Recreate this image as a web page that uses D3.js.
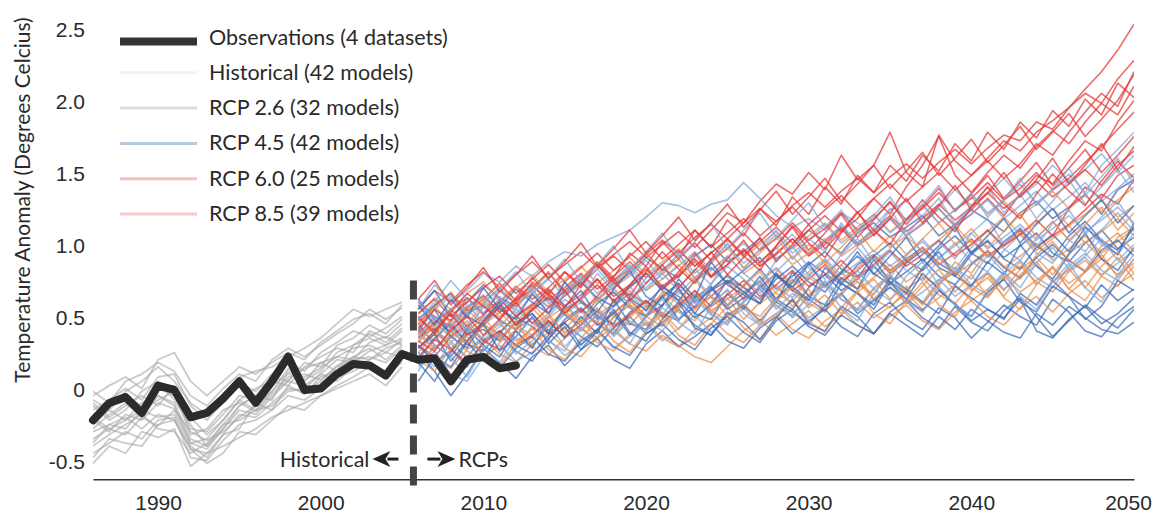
<!DOCTYPE html>
<html>
<head>
<meta charset="utf-8">
<script src="https://cdn.jsdelivr.net/npm/d3@7"></script>
<style>
  html, body { margin: 0; padding: 0; background: #fff; }
  svg { display: block; font-family: Lato, "Open Sans", sans-serif; }
  .axis text { fill: #2a2a2a; font-size: 21px; }
  .axis path { stroke: #333; stroke-width: 1.6; }
  .legend text, .note { fill: #2a2a2a; font-size: 21.5px; }
</style>
</head>
<body>
<div id="chart"></div>
<script>
// Years
const histStart = 1986;   // historical runs and observations start
const rcpStart = 2006;    // scenario runs start
const splitYear = 2005.7; // dashed divider

const xTicks = [1990, 2000, 2010, 2020, 2030, 2040, 2050];
const yTicks = [-0.5, 0, 0.5, 1.0, 1.5, 2.0, 2.5];

const legendLabels = [
  'Observations (4 datasets)',
  'Historical (42 models)',
  'RCP 2.6 (32 models)',
  'RCP 4.5 (42 models)',
  'RCP 6.0 (25 models)',
  'RCP 8.5 (39 models)'
];

// Observations, 1986-2012
const observations = [
  -0.22, -0.10, -0.06, -0.17, 0.02, -0.01, -0.20, -0.17, -0.07, 0.05,
  -0.10, 0.05, 0.22, -0.01, 0.00, 0.10, 0.17, 0.16, 0.09, 0.24,
  0.20, 0.21, 0.05, 0.20, 0.22, 0.14, 0.16
];

// Historical model runs, 1986-2005
const historical = [
  [-0.18, -0.12, -0.05, -0.12, 0.00, -0.05, -0.28, -0.30, -0.18, -0.05, -0.08, 0.02, 0.10, 0.08, 0.14, 0.22, 0.28, 0.30, 0.25, 0.34],
  [-0.45, -0.38, -0.30, -0.35, -0.22, -0.20, -0.48, -0.50, -0.36, -0.25, -0.22, -0.15, -0.05, -0.08, 0.00, 0.08, 0.12, 0.18, 0.10, 0.20],
  [-0.05, 0.02, 0.08, 0.00, 0.20, 0.25, 0.05, -0.05, 0.05, 0.15, 0.10, 0.18, 0.25, 0.20, 0.32, 0.40, 0.48, 0.52, 0.45, 0.58],
  [-0.30, -0.25, -0.20, -0.28, -0.18, -0.22, -0.42, -0.45, -0.32, -0.18, -0.20, -0.10, 0.00, -0.02, 0.05, 0.15, 0.20, 0.22, 0.18, 0.28],
  [-0.25, -0.15, -0.22, -0.10, -0.05, -0.10, -0.35, -0.40, -0.25, -0.12, -0.05, -0.08, 0.12, 0.05, 0.18, 0.12, 0.30, 0.38, 0.32, 0.42],
  [-0.10, -0.20, -0.12, -0.05, -0.12, 0.02, -0.20, -0.32, -0.22, -0.08, 0.00, 0.05, 0.02, 0.15, 0.22, 0.28, 0.25, 0.40, 0.35, 0.45],
  [-0.52, -0.40, -0.45, -0.30, -0.34, -0.28, -0.54, -0.45, -0.40, -0.34, -0.28, -0.20, -0.15, -0.10, -0.05, 0.00, 0.05, 0.10, 0.02, 0.15],
  [-0.15, -0.08, 0.00, -0.08, 0.08, 0.10, -0.12, -0.22, -0.10, 0.04, -0.02, 0.10, 0.18, 0.12, 0.25, 0.32, 0.40, 0.36, 0.42, 0.50],
  [-0.35, -0.28, -0.32, -0.20, -0.26, -0.15, -0.38, -0.42, -0.28, -0.15, -0.18, -0.06, 0.05, 0.02, 0.10, 0.20, 0.18, 0.26, 0.30, 0.35],
  [-0.22, -0.30, -0.18, -0.22, -0.10, -0.14, -0.30, -0.36, -0.30, -0.20, -0.12, -0.02, 0.08, 0.10, 0.06, 0.16, 0.22, 0.28, 0.20, 0.30],
  [-0.40, -0.32, -0.25, -0.18, -0.28, -0.30, -0.45, -0.38, -0.25, -0.22, -0.15, -0.12, -0.02, 0.00, 0.10, 0.05, 0.15, 0.20, 0.25, 0.22],
  [-0.08, -0.15, -0.02, 0.05, 0.15, 0.05, -0.10, -0.18, -0.05, 0.08, 0.12, 0.15, 0.22, 0.28, 0.35, 0.45, 0.55, 0.50, 0.55, 0.60],
  [-0.28, -0.18, -0.10, -0.20, -0.05, -0.12, -0.38, -0.35, -0.22, -0.08, -0.15, -0.02, 0.14, 0.06, 0.12, 0.25, 0.30, 0.35, 0.30, 0.40],
  [-0.12, -0.22, -0.15, -0.02, 0.05, -0.08, -0.25, -0.40, -0.28, -0.12, -0.05, 0.08, 0.05, 0.18, 0.15, 0.30, 0.35, 0.44, 0.38, 0.48],
  [-0.38, -0.25, -0.28, -0.15, -0.20, -0.18, -0.40, -0.48, -0.32, -0.28, -0.10, -0.15, 0.02, -0.04, 0.08, 0.12, 0.22, 0.20, 0.28, 0.32],
  [-0.02, -0.10, 0.05, 0.10, 0.18, 0.12, -0.05, -0.12, 0.00, 0.10, 0.05, 0.20, 0.28, 0.22, 0.30, 0.38, 0.45, 0.55, 0.48, 0.56],
  [-0.20, -0.28, -0.22, -0.15, -0.08, -0.02, -0.32, -0.28, -0.15, -0.10, -0.16, -0.04, 0.06, 0.14, 0.18, 0.22, 0.20, 0.32, 0.36, 0.30],
  [-0.48, -0.35, -0.38, -0.40, -0.25, -0.22, -0.42, -0.52, -0.45, -0.30, -0.32, -0.22, -0.12, -0.15, -0.05, 0.02, 0.08, 0.15, 0.10, 0.18]
];

// Scenario runs, 2006-2050
const rcp26 = [
  [0.45, 0.30, 0.22, 0.38, 0.41, 0.33, 0.46, 0.52, 0.40, 0.55, 0.62, 0.48, 0.57, 0.66, 0.59, 0.70, 0.64, 0.52, 0.68, 0.75, 0.71, 0.83, 0.69, 0.78, 0.88, 0.80, 0.72, 0.86, 0.93, 0.82, 0.90, 0.98, 0.87, 0.80, 0.95, 1.02, 0.91, 0.99, 1.08, 0.94, 0.88, 1.01, 1.10, 0.97, 1.05],
  [0.25, 0.12, -0.05, 0.10, 0.28, 0.18, 0.07, 0.22, 0.30, 0.16, 0.27, 0.35, 0.20, 0.14, 0.31, 0.40, 0.29, 0.36, 0.45, 0.33, 0.28, 0.42, 0.50, 0.38, 0.47, 0.55, 0.43, 0.36, 0.52, 0.60, 0.48, 0.41, 0.56, 0.49, 0.35, 0.46, 0.58, 0.50, 0.44, 0.62, 0.53, 0.40, 0.36, 0.49, 0.57],
  [0.55, 0.68, 0.50, 0.60, 0.72, 0.63, 0.57, 0.70, 0.81, 0.66, 0.75, 0.86, 0.72, 0.80, 0.91, 0.83, 0.77, 0.92, 1.00, 0.88, 0.95, 1.04, 0.90, 0.98, 1.10, 1.02, 0.94, 1.08, 1.15, 1.05, 1.12, 1.20, 1.06, 1.14, 1.24, 1.17, 1.09, 1.22, 1.30, 1.18, 1.26, 1.35, 1.21, 1.38, 1.45],
  [0.35, 0.42, 0.28, 0.15, 0.33, 0.40, 0.30, 0.24, 0.37, 0.45, 0.36, 0.29, 0.42, 0.50, 0.38, 0.46, 0.55, 0.44, 0.37, 0.51, 0.58, 0.47, 0.60, 0.53, 0.45, 0.57, 0.66, 0.52, 0.61, 0.70, 0.62, 0.54, 0.68, 0.59, 0.47, 0.55, 0.49, 0.62, 0.40, 0.35, 0.48, 0.57, 0.45, 0.52, 0.63],
  [0.20, 0.35, 0.45, 0.31, 0.26, 0.39, 0.50, 0.43, 0.34, 0.48, 0.56, 0.45, 0.38, 0.53, 0.61, 0.52, 0.47, 0.63, 0.71, 0.58, 0.66, 0.74, 0.62, 0.55, 0.70, 0.79, 0.68, 0.76, 0.85, 0.73, 0.81, 0.90, 0.78, 0.72, 0.86, 0.95, 0.84, 0.77, 0.91, 1.00, 0.89, 0.81, 0.96, 1.03, 0.92],
  [0.62, 0.48, 0.39, 0.52, 0.58, 0.47, 0.41, 0.55, 0.63, 0.51, 0.44, 0.59, 0.67, 0.56, 0.50, 0.64, 0.73, 0.60, 0.68, 0.79, 0.70, 0.62, 0.76, 0.85, 0.74, 0.67, 0.81, 0.92, 0.80, 0.72, 0.87, 0.96, 0.84, 0.78, 0.93, 1.03, 0.90, 0.83, 0.98, 1.07, 0.95, 1.12, 1.02, 0.93, 1.15],
  [0.30, 0.18, 0.26, 0.40, 0.22, 0.14, 0.28, 0.36, 0.24, 0.19, 0.33, 0.41, 0.29, 0.23, 0.38, 0.45, 0.34, 0.27, 0.42, 0.50, 0.39, 0.32, 0.47, 0.55, 0.43, 0.37, 0.51, 0.44, 0.38, 0.53, 0.61, 0.49, 0.42, 0.57, 0.46, 0.40, 0.54, 0.63, 0.50, 0.36, 0.47, 0.58, 0.49, 0.42, 0.55],
  [0.48, 0.58, 0.66, 0.50, 0.44, 0.57, 0.69, 0.60, 0.52, 0.65, 0.74, 0.63, 0.57, 0.71, 0.80, 0.68, 0.61, 0.75, 0.84, 0.73, 0.82, 0.91, 0.78, 0.70, 0.86, 0.95, 0.83, 0.77, 0.92, 1.01, 0.89, 0.82, 0.97, 1.06, 0.94, 0.87, 1.02, 1.11, 0.99, 0.91, 1.06, 1.16, 1.03, 0.96, 1.12],
  [0.18, 0.05, 0.25, 0.42, 0.30, 0.22, 0.40, 0.28, 0.47, 0.35, 0.50, 0.38, 0.62, 0.45, 0.41, 0.58, 0.70, 0.52, 0.48, 0.66, 0.55, 0.72, 0.60, 0.81, 0.64, 0.58, 0.77, 0.69, 0.90, 0.74, 0.66, 0.84, 0.95, 0.78, 0.71, 0.88, 0.79, 1.00, 0.85, 0.76, 0.93, 1.08, 0.90, 0.82, 0.98],
  [0.40, 0.55, 0.36, 0.28, 0.47, 0.60, 0.44, 0.52, 0.38, 0.57, 0.68, 0.50, 0.45, 0.63, 0.54, 0.72, 0.61, 0.49, 0.58, 0.75, 0.67, 0.59, 0.80, 0.70, 0.62, 0.54, 0.73, 0.66, 0.58, 0.77, 0.69, 0.60, 0.52, 0.71, 0.63, 0.55, 0.48, 0.66, 0.58, 0.75, 0.64, 0.56, 0.72, 0.61, 0.69],
  [0.05, 0.22, 0.15, 0.32, 0.20, 0.38, 0.26, 0.19, 0.35, 0.46, 0.30, 0.41, 0.53, 0.37, 0.50, 0.64, 0.48, 0.57, 0.70, 0.55, 0.63, 0.78, 0.62, 0.74, 0.87, 0.71, 0.80, 0.95, 0.79, 0.92, 1.05, 0.88, 0.99, 1.12, 0.94, 1.06, 1.18, 1.01, 1.14, 1.25, 1.08, 1.20, 1.31, 1.15, 1.27],
  [0.58, 0.44, 0.62, 0.49, 0.70, 0.55, 0.48, 0.66, 0.52, 0.74, 0.60, 0.53, 0.69, 0.82, 0.64, 0.57, 0.76, 0.63, 0.88, 0.72, 0.65, 0.59, 0.79, 0.68, 0.61, 0.84, 0.73, 0.66, 0.55, 0.74, 0.62, 0.80, 0.69, 0.58, 0.50, 0.67, 0.76, 0.60, 0.53, 0.71, 0.64, 0.48, 0.57, 0.75, 0.68],
  [0.28, 0.38, 0.19, 0.33, 0.45, 0.26, 0.36, 0.50, 0.31, 0.43, 0.27, 0.40, 0.55, 0.39, 0.33, 0.48, 0.60, 0.42, 0.37, 0.53, 0.46, 0.34, 0.49, 0.62, 0.45, 0.40, 0.57, 0.50, 0.38, 0.52, 0.44, 0.36, 0.50, 0.41, 0.55, 0.47, 0.39, 0.35, 0.52, 0.44, 0.57, 0.49, 0.41, 0.38, 0.46]
];

const rcp45 = [
  [0.55, 0.72, 0.60, 0.68, 0.80, 0.74, 0.85, 0.78, 0.88, 0.95, 0.92, 1.00, 1.05, 1.10, 1.19, 1.29, 1.27, 1.22, 1.28, 1.31, 1.43, 1.32, 1.20, 1.12, 1.18, 1.10, 1.22, 1.15, 1.08, 1.24, 1.30, 1.19, 1.26, 1.38, 1.27, 1.35, 1.46, 1.33, 1.42, 1.55, 1.44, 1.52, 1.63, 1.50, 1.62],
  [0.40, 0.28, 0.36, 0.47, 0.34, 0.43, 0.55, 0.46, 0.39, 0.52, 0.60, 0.49, 0.57, 0.66, 0.54, 0.63, 0.72, 0.61, 0.69, 0.78, 0.67, 0.75, 0.84, 0.73, 0.81, 0.90, 0.79, 0.87, 0.96, 0.85, 0.93, 1.02, 0.91, 0.99, 1.08, 0.97, 1.05, 1.14, 1.03, 1.11, 1.20, 1.09, 1.17, 1.26, 1.15],
  [0.15, 0.26, 0.10, 0.05, 0.22, 0.30, 0.19, 0.25, 0.34, 0.23, 0.31, 0.40, 0.28, 0.36, 0.45, 0.33, 0.42, 0.51, 0.39, 0.47, 0.56, 0.44, 0.52, 0.61, 0.49, 0.57, 0.66, 0.54, 0.62, 0.71, 0.59, 0.67, 0.76, 0.64, 0.72, 0.81, 0.69, 0.77, 0.86, 0.74, 0.82, 0.91, 0.79, 0.87, 0.96],
  [0.50, 0.38, 0.46, 0.57, 0.65, 0.53, 0.61, 0.72, 0.59, 0.68, 0.79, 0.66, 0.75, 0.86, 0.73, 0.82, 0.93, 0.80, 0.89, 1.00, 0.87, 0.96, 1.07, 0.94, 1.03, 1.14, 1.01, 1.10, 1.21, 1.08, 1.17, 1.28, 1.15, 1.24, 1.35, 1.22, 1.31, 1.42, 1.29, 1.38, 1.49, 1.36, 1.55, 1.66, 1.78],
  [0.33, 0.45, 0.52, 0.40, 0.49, 0.58, 0.44, 0.37, 0.50, 0.62, 0.53, 0.46, 0.60, 0.71, 0.58, 0.51, 0.66, 0.77, 0.64, 0.57, 0.72, 0.83, 0.70, 0.63, 0.78, 0.89, 0.76, 0.69, 0.84, 0.95, 0.82, 0.75, 0.90, 1.01, 0.88, 0.81, 0.96, 1.07, 0.94, 0.87, 1.02, 1.13, 1.00, 0.93, 1.08],
  [0.60, 0.47, 0.35, 0.42, 0.56, 0.64, 0.50, 0.57, 0.69, 0.58, 0.48, 0.62, 0.74, 0.63, 0.70, 0.80, 0.68, 0.59, 0.73, 0.85, 0.76, 0.66, 0.81, 0.92, 0.79, 0.71, 0.86, 0.98, 0.85, 0.77, 0.92, 1.04, 0.91, 0.83, 0.98, 1.10, 0.97, 0.89, 1.04, 1.16, 1.03, 0.95, 1.10, 1.22, 1.09],
  [0.28, 0.40, 0.33, 0.21, 0.37, 0.46, 0.35, 0.29, 0.44, 0.52, 0.41, 0.35, 0.50, 0.58, 0.47, 0.40, 0.55, 0.64, 0.52, 0.45, 0.60, 0.69, 0.57, 0.50, 0.65, 0.74, 0.62, 0.55, 0.70, 0.79, 0.67, 0.60, 0.75, 0.84, 0.72, 0.65, 0.80, 0.89, 0.77, 0.70, 0.85, 0.94, 0.82, 0.75, 0.90],
  [0.45, 0.55, 0.64, 0.52, 0.60, 0.70, 0.58, 0.66, 0.76, 0.64, 0.72, 0.83, 0.70, 0.78, 0.89, 0.76, 0.85, 0.95, 0.82, 0.91, 1.01, 0.88, 0.97, 1.07, 0.94, 1.03, 1.13, 1.00, 1.09, 1.19, 1.06, 1.15, 1.25, 1.12, 1.21, 1.31, 1.18, 1.27, 1.37, 1.24, 1.33, 1.43, 1.30, 1.39, 1.49],
  [0.35, 0.50, 0.42, 0.58, 0.46, 0.62, 0.55, 0.70, 0.52, 0.66, 0.78, 0.60, 0.73, 0.85, 0.68, 0.80, 0.94, 0.76, 0.88, 1.01, 0.83, 0.97, 1.10, 0.90, 1.04, 0.95, 1.15, 1.00, 1.12, 1.25, 1.06, 1.20, 1.32, 1.14, 1.27, 1.40, 1.22, 1.35, 1.18, 1.30, 1.45, 1.28, 1.40, 1.52, 1.36],
  [0.62, 0.48, 0.55, 0.40, 0.58, 0.70, 0.52, 0.65, 0.57, 0.74, 0.61, 0.80, 0.68, 0.59, 0.77, 0.86, 0.70, 0.83, 0.72, 0.92, 0.80, 0.71, 0.89, 0.99, 0.84, 0.76, 0.93, 1.04, 0.88, 0.97, 1.10, 0.94, 1.02, 0.90, 1.08, 1.18, 1.00, 1.12, 0.98, 1.15, 1.24, 1.07, 1.19, 1.30, 1.13],
  [0.12, 0.30, 0.22, 0.08, 0.27, 0.38, 0.24, 0.33, 0.45, 0.29, 0.41, 0.52, 0.36, 0.47, 0.39, 0.56, 0.48, 0.62, 0.51, 0.44, 0.60, 0.71, 0.55, 0.66, 0.58, 0.75, 0.64, 0.82, 0.69, 0.61, 0.78, 0.88, 0.72, 0.84, 0.76, 0.93, 0.81, 0.70, 0.87, 0.98, 0.83, 0.92, 1.04, 0.89, 1.00],
  [0.48, 0.60, 0.75, 0.62, 0.52, 0.69, 0.81, 0.66, 0.77, 0.90, 0.74, 0.86, 0.99, 0.82, 0.95, 1.08, 0.91, 1.02, 1.15, 0.97, 1.10, 1.22, 1.05, 1.17, 1.29, 1.12, 1.24, 1.08, 1.20, 1.33, 1.16, 1.28, 1.41, 1.23, 1.36, 1.19, 1.31, 1.46, 1.27, 1.39, 1.53, 1.34, 1.47, 1.60, 1.42],
  [0.25, 0.15, 0.32, 0.43, 0.28, 0.18, 0.36, 0.49, 0.33, 0.26, 0.44, 0.55, 0.40, 0.31, 0.50, 0.62, 0.46, 0.38, 0.57, 0.69, 0.52, 0.44, 0.63, 0.49, 0.58, 0.72, 0.56, 0.47, 0.66, 0.79, 0.61, 0.53, 0.71, 0.58, 0.50, 0.68, 0.81, 0.64, 0.55, 0.74, 0.87, 0.70, 0.60, 0.79, 0.93]
];

const rcp60 = [
  [0.30, 0.20, 0.14, 0.27, 0.35, 0.24, 0.18, 0.31, 0.39, 0.28, 0.22, 0.35, 0.42, 0.31, 0.26, 0.37, 0.30, 0.22, 0.18, 0.29, 0.40, 0.48, 0.37, 0.45, 0.54, 0.43, 0.51, 0.60, 0.49, 0.57, 0.66, 0.55, 0.63, 0.72, 0.61, 0.69, 0.78, 0.67, 0.75, 0.84, 0.73, 0.81, 0.90, 0.79, 0.87],
  [0.42, 0.33, 0.48, 0.55, 0.44, 0.38, 0.51, 0.59, 0.47, 0.41, 0.54, 0.62, 0.50, 0.44, 0.57, 0.65, 0.53, 0.47, 0.60, 0.68, 0.56, 0.50, 0.63, 0.71, 0.59, 0.53, 0.66, 0.74, 0.62, 0.56, 0.69, 0.77, 0.65, 0.59, 0.72, 0.80, 0.68, 0.83, 0.91, 0.79, 0.94, 1.02, 0.90, 1.05, 1.12],
  [0.25, 0.38, 0.31, 0.22, 0.36, 0.45, 0.33, 0.41, 0.50, 0.39, 0.47, 0.56, 0.44, 0.52, 0.61, 0.49, 0.57, 0.66, 0.54, 0.62, 0.71, 0.59, 0.67, 0.76, 0.64, 0.72, 0.81, 0.69, 0.77, 0.86, 0.74, 0.82, 0.91, 0.79, 0.87, 0.96, 0.84, 0.92, 1.01, 0.89, 0.97, 1.06, 0.94, 1.02, 1.11],
  [0.52, 0.63, 0.55, 0.66, 0.74, 0.61, 0.70, 0.79, 0.67, 0.76, 0.85, 0.73, 0.82, 0.91, 0.79, 0.88, 0.97, 0.85, 0.94, 1.03, 0.91, 1.00, 1.09, 0.97, 1.06, 1.15, 1.03, 1.12, 1.21, 1.09, 1.18, 1.27, 1.15, 1.24, 1.33, 1.21, 1.30, 1.20, 1.28, 1.37, 1.25, 1.34, 1.23, 1.31, 1.40],
  [0.36, 0.48, 0.40, 0.30, 0.44, 0.53, 0.42, 0.35, 0.49, 0.57, 0.46, 0.39, 0.53, 0.61, 0.50, 0.43, 0.57, 0.65, 0.54, 0.47, 0.61, 0.69, 0.58, 0.51, 0.65, 0.73, 0.62, 0.55, 0.69, 0.77, 0.66, 0.59, 0.73, 0.81, 0.70, 0.63, 0.77, 0.85, 0.74, 0.67, 0.81, 0.89, 0.78, 0.71, 0.85],
  [0.58, 0.45, 0.37, 0.50, 0.43, 0.34, 0.47, 0.56, 0.44, 0.53, 0.62, 0.51, 0.59, 0.68, 0.56, 0.64, 0.73, 0.61, 0.69, 0.78, 0.66, 0.74, 0.83, 0.71, 0.79, 0.88, 0.76, 0.84, 0.93, 0.81, 0.89, 0.98, 0.86, 0.94, 1.03, 0.91, 0.99, 1.08, 0.96, 1.04, 1.13, 1.01, 1.09, 1.18, 1.06],
  [0.18, 0.29, 0.37, 0.26, 0.20, 0.32, 0.40, 0.29, 0.23, 0.35, 0.43, 0.32, 0.26, 0.38, 0.46, 0.35, 0.29, 0.41, 0.49, 0.38, 0.32, 0.44, 0.52, 0.41, 0.35, 0.47, 0.55, 0.44, 0.38, 0.50, 0.58, 0.47, 0.41, 0.53, 0.61, 0.50, 0.44, 0.56, 0.64, 0.53, 0.66, 0.75, 0.63, 0.72, 0.80],
  [0.47, 0.57, 0.45, 0.52, 0.62, 0.50, 0.58, 0.68, 0.56, 0.64, 0.74, 0.62, 0.70, 0.80, 0.68, 0.76, 0.86, 0.74, 0.82, 0.92, 0.80, 0.88, 0.98, 0.86, 0.94, 1.04, 0.92, 1.00, 1.10, 0.98, 1.06, 0.95, 1.03, 1.13, 1.01, 1.09, 1.19, 1.07, 1.15, 1.25, 1.13, 1.21, 1.31, 1.19, 1.27],
  [0.32, 0.44, 0.26, 0.39, 0.50, 0.35, 0.46, 0.30, 0.43, 0.55, 0.40, 0.51, 0.37, 0.49, 0.61, 0.45, 0.56, 0.68, 0.52, 0.63, 0.48, 0.60, 0.72, 0.57, 0.69, 0.54, 0.66, 0.78, 0.62, 0.74, 0.59, 0.71, 0.83, 0.67, 0.79, 0.64, 0.76, 0.88, 0.72, 0.84, 0.69, 0.81, 0.93, 0.77, 0.90],
  [0.50, 0.38, 0.54, 0.44, 0.60, 0.48, 0.41, 0.57, 0.65, 0.52, 0.46, 0.62, 0.70, 0.58, 0.51, 0.67, 0.59, 0.75, 0.63, 0.56, 0.72, 0.81, 0.66, 0.60, 0.77, 0.70, 0.86, 0.74, 0.65, 0.82, 0.91, 0.78, 0.71, 0.88, 0.80, 0.96, 0.85, 0.76, 0.93, 1.02, 0.89, 0.82, 0.99, 1.08, 0.95],
  [0.20, 0.12, 0.28, 0.36, 0.24, 0.16, 0.31, 0.42, 0.27, 0.20, 0.35, 0.47, 0.33, 0.25, 0.40, 0.52, 0.37, 0.30, 0.45, 0.57, 0.42, 0.34, 0.50, 0.62, 0.47, 0.39, 0.56, 0.68, 0.52, 0.45, 0.61, 0.74, 0.58, 0.50, 0.67, 0.80, 0.63, 0.55, 0.72, 0.85, 0.69, 0.61, 0.78, 0.91, 0.75],
  [0.44, 0.56, 0.67, 0.53, 0.62, 0.73, 0.58, 0.69, 0.81, 0.65, 0.76, 0.88, 0.72, 0.83, 0.95, 0.79, 0.90, 0.77, 0.87, 0.98, 0.84, 0.94, 1.05, 0.90, 1.00, 0.87, 0.98, 1.10, 0.95, 1.06, 0.93, 1.04, 1.15, 1.00, 1.11, 0.98, 1.09, 1.21, 1.05, 1.16, 1.03, 1.14, 1.26, 1.10, 1.22],
  [0.38, 0.27, 0.40, 0.31, 0.45, 0.36, 0.29, 0.43, 0.52, 0.38, 0.47, 0.35, 0.49, 0.58, 0.44, 0.53, 0.41, 0.55, 0.64, 0.50, 0.59, 0.46, 0.61, 0.70, 0.56, 0.65, 0.52, 0.67, 0.76, 0.62, 0.71, 0.58, 0.73, 0.82, 0.68, 0.77, 0.64, 0.79, 0.88, 0.74, 0.83, 0.70, 0.85, 0.95, 0.80]
];

const rcp85 = [
  [0.55, 0.68, 0.60, 0.72, 0.81, 0.70, 0.79, 0.88, 0.77, 0.86, 0.95, 0.84, 0.93, 1.02, 0.91, 1.00, 1.09, 0.98, 1.10, 1.22, 1.15, 1.30, 1.42, 1.35, 1.50, 1.38, 1.62, 1.45, 1.55, 1.78, 1.50, 1.40, 1.76, 1.58, 1.48, 1.60, 1.72, 1.65, 1.78, 1.86, 1.95, 2.05, 1.98, 2.15, 2.28],
  [0.48, 0.40, 0.55, 0.63, 0.52, 0.60, 0.71, 0.62, 0.70, 0.81, 0.72, 0.83, 0.92, 0.82, 0.93, 1.03, 0.94, 1.05, 1.14, 1.04, 1.15, 1.25, 1.16, 1.27, 1.36, 1.26, 1.37, 1.46, 1.36, 1.47, 1.56, 1.46, 1.57, 1.66, 1.56, 1.67, 1.76, 1.72, 1.85, 1.80, 1.95, 2.08, 2.20, 2.35, 2.53],
  [0.38, 0.50, 0.43, 0.33, 0.47, 0.56, 0.45, 0.54, 0.64, 0.53, 0.62, 0.72, 0.61, 0.70, 0.80, 0.69, 0.78, 0.88, 0.77, 0.86, 0.96, 0.85, 0.94, 1.04, 0.93, 1.02, 1.12, 1.01, 1.10, 1.20, 1.09, 1.18, 1.28, 1.17, 1.26, 1.36, 1.25, 1.34, 1.44, 1.33, 1.42, 1.52, 1.41, 1.55, 1.65],
  [0.30, 0.22, 0.36, 0.44, 0.33, 0.27, 0.41, 0.49, 0.38, 0.46, 0.55, 0.44, 0.52, 0.62, 0.50, 0.58, 0.68, 0.56, 0.64, 0.74, 0.62, 0.70, 0.80, 0.68, 0.76, 0.86, 0.74, 0.82, 0.92, 0.80, 0.88, 0.98, 0.86, 0.94, 1.04, 0.92, 1.00, 1.10, 0.98, 1.06, 1.25, 1.40, 1.32, 1.48, 1.55],
  [0.45, 0.57, 0.66, 0.54, 0.62, 0.73, 0.61, 0.69, 0.80, 0.68, 0.76, 0.87, 0.75, 0.83, 0.94, 0.82, 0.90, 1.01, 0.89, 0.97, 1.08, 0.96, 1.04, 1.15, 1.03, 1.11, 1.22, 1.10, 1.18, 1.29, 1.17, 1.25, 1.36, 1.24, 1.32, 1.43, 1.31, 1.39, 1.50, 1.38, 1.46, 1.57, 1.68, 1.80, 1.92],
  [0.60, 0.50, 0.42, 0.56, 0.64, 0.53, 0.62, 0.72, 0.61, 0.70, 0.80, 0.69, 0.78, 0.88, 0.77, 0.86, 0.96, 0.85, 0.94, 1.04, 0.93, 1.02, 1.12, 1.01, 1.10, 1.20, 1.09, 1.18, 1.32, 1.21, 1.40, 1.55, 1.75, 1.48, 1.36, 1.50, 1.62, 1.53, 1.68, 1.79, 1.70, 1.85, 1.98, 1.90, 2.10],
  [0.35, 0.46, 0.55, 0.43, 0.51, 0.62, 0.50, 0.58, 0.69, 0.57, 0.65, 0.76, 0.64, 0.72, 0.83, 0.71, 0.79, 0.90, 0.78, 0.86, 0.97, 0.85, 0.93, 1.04, 0.92, 1.00, 1.11, 0.99, 1.07, 1.18, 1.06, 1.14, 1.25, 1.13, 1.21, 1.32, 1.20, 1.35, 1.48, 1.42, 1.58, 1.72, 1.65, 1.85, 2.00],
  [0.52, 0.62, 0.50, 0.60, 0.70, 0.78, 0.66, 0.76, 0.86, 0.74, 0.84, 0.94, 0.82, 0.92, 1.02, 0.90, 1.00, 1.10, 0.98, 1.08, 1.18, 1.06, 1.16, 1.26, 1.14, 1.24, 1.34, 1.22, 1.32, 1.42, 1.30, 1.40, 1.50, 1.38, 1.48, 1.58, 1.46, 1.56, 1.70, 1.62, 1.78, 1.92, 2.05, 1.96, 2.20],
  [0.22, 0.34, 0.27, 0.18, 0.31, 0.40, 0.30, 0.37, 0.47, 0.36, 0.44, 0.54, 0.43, 0.51, 0.61, 0.50, 0.58, 0.68, 0.57, 0.65, 0.75, 0.64, 0.72, 0.82, 0.71, 0.79, 0.89, 0.78, 0.86, 0.96, 0.85, 0.93, 1.03, 0.92, 1.00, 1.10, 0.99, 1.07, 1.17, 1.06, 1.14, 1.24, 1.35, 1.28, 1.45],
  [0.42, 0.55, 0.47, 0.63, 0.51, 0.68, 0.59, 0.74, 0.65, 0.81, 0.70, 0.88, 0.77, 0.94, 0.85, 1.02, 0.90, 1.10, 0.98, 1.17, 1.06, 1.25, 1.13, 1.33, 1.21, 1.40, 1.28, 1.48, 1.36, 1.55, 1.44, 1.62, 1.51, 1.70, 1.58, 1.78, 1.66, 1.85, 1.74, 1.93, 1.82, 2.01, 1.90, 2.12, 2.02],
  [0.28, 0.40, 0.52, 0.37, 0.46, 0.58, 0.44, 0.55, 0.67, 0.52, 0.63, 0.76, 0.60, 0.72, 0.85, 0.69, 0.81, 0.94, 0.78, 0.90, 1.03, 0.87, 0.99, 1.12, 0.96, 1.08, 1.21, 1.05, 1.17, 1.30, 1.14, 1.26, 1.39, 1.23, 1.35, 1.48, 1.32, 1.44, 1.57, 1.41, 1.53, 1.66, 1.50, 1.62, 1.75],
  [0.50, 0.38, 0.53, 0.66, 0.57, 0.48, 0.63, 0.77, 0.65, 0.56, 0.72, 0.86, 0.74, 0.64, 0.81, 0.95, 0.83, 0.73, 0.90, 1.04, 0.92, 0.82, 0.99, 1.13, 1.01, 0.91, 1.08, 1.22, 1.10, 1.00, 1.17, 1.31, 1.19, 1.09, 1.26, 1.40, 1.28, 1.18, 1.35, 1.49, 1.37, 1.27, 1.44, 1.58, 1.46],
  [0.62, 0.75, 0.58, 0.70, 0.84, 0.67, 0.79, 0.92, 0.76, 0.88, 1.01, 0.85, 0.97, 1.10, 0.94, 1.06, 1.19, 1.03, 1.15, 1.28, 1.12, 1.24, 1.37, 1.21, 1.33, 1.46, 1.30, 1.42, 1.55, 1.39, 1.51, 1.64, 1.48, 1.60, 1.73, 1.57, 1.69, 1.82, 1.66, 1.78, 1.91, 1.75, 1.87, 2.00, 2.18],
  [0.33, 0.26, 0.41, 0.50, 0.37, 0.48, 0.60, 0.45, 0.56, 0.68, 0.53, 0.64, 0.77, 0.61, 0.73, 0.86, 0.70, 0.82, 0.95, 0.79, 0.91, 1.05, 0.88, 1.00, 1.14, 0.97, 1.09, 1.23, 1.06, 1.18, 1.32, 1.15, 1.27, 1.41, 1.24, 1.36, 1.50, 1.33, 1.45, 1.60, 1.42, 1.55, 1.70, 1.52, 1.68]
];

const width = 1156, height = 514;

const svg = d3.select('#chart').append('svg')
  .attr('width', width)
  .attr('height', height);

const xScale = d3.scaleLinear().domain([1986, 2050]).range([93, 1134]);
const yScale = d3.scaleLinear().domain([-0.5, 2.5]).range([460.5, 28.5]);

// keep runs inside the time span
svg.append('clipPath').attr('id', 'plot-clip')
  .append('rect')
  .attr('x', xScale(1986)).attr('y', 0)
  .attr('width', xScale(2050) - xScale(1986)).attr('height', height);

function lineFrom(start) {
  return d3.line()
    .x((d, i) => xScale(start + i))
    .y(d => yScale(d));
}

const plot = svg.append('g').attr('clip-path', 'url(#plot-clip)');

// historical grey runs
plot.append('g').attr('class', 'historical')
  .selectAll('path')
  .data(historical)
  .join('path')
  .attr('d', lineFrom(histStart))
  .attr('fill', 'none')
  .attr('stroke', '#a6a6a6')
  .attr('stroke-width', 1.8)
  .attr('stroke-opacity', 0.6)
  .attr('stroke-linejoin', 'round');

// scenario runs, interleaved so the colours mix like the original
const scenarios = [
  {runs: rcp60, color: '#ee9152'},
  {runs: rcp26, color: '#3f6cb8'},
  {runs: rcp85, color: '#e6393a'},
  {runs: rcp45, color: '#86aadb'}
];
const mixed = [];
for (let i = 0; i < 14; i++) {
  scenarios.forEach(s => {
    if (s.runs[i]) mixed.push({values: s.runs[i], color: s.color});
  });
}

plot.append('g').attr('class', 'rcps')
  .selectAll('path')
  .data(mixed)
  .join('path')
  .attr('d', d => lineFrom(rcpStart)(d.values))
  .attr('fill', 'none')
  .attr('stroke', d => d.color)
  .attr('stroke-width', 1.6)
  .attr('stroke-opacity', 0.75)
  .attr('stroke-linejoin', 'round');

// x axis
const xAxis = svg.append('g')
  .attr('class', 'axis axis-x')
  .attr('transform', `translate(0, ${yScale(-0.63)})`)
  .call(d3.axisBottom(xScale).tickValues(xTicks).tickFormat(d3.format('d'))
    .tickSize(0).tickSizeOuter(0).tickPadding(31));
xAxis.selectAll('text').attr('dy', 0);
// last label is pulled in so it stays on the page
xAxis.selectAll('.tick').filter(d => d === 2050).select('text').attr('dx', -6);

// y axis, labels only
const yAxis = svg.append('g')
  .attr('class', 'axis axis-y')
  .attr('transform', `translate(91, 0)`)
  .call(d3.axisLeft(yScale).tickValues(yTicks)
    .tickFormat(d => d === 0 ? '0' : d.toFixed(1))
    .tickSize(0).tickPadding(6));
yAxis.select('.domain').remove();
yAxis.selectAll('text').attr('dy', '0.36em');

svg.append('text')
  .attr('class', 'note')
  .attr('transform', `translate(29.5, 200) rotate(-90)`)
  .attr('text-anchor', 'middle')
  .style('font-size', '21px')
  .text('Temperature Anomaly (Degrees Celcius)');

// divider between historical and scenario periods
const splitX = xScale(splitYear);
svg.append('line')
  .attr('x1', splitX).attr('x2', splitX)
  .attr('y1', yScale(0.75)).attr('y2', yScale(-0.68))
  .attr('stroke', '#444')
  .attr('stroke-width', 7)
  .attr('stroke-dasharray', '19,12');

// observations on top
svg.append('path')
  .datum(observations)
  .attr('d', lineFrom(histStart))
  .attr('fill', 'none')
  .attr('stroke', '#2b2b2b')
  .attr('stroke-width', 8)
  .attr('stroke-linejoin', 'round')
  .attr('stroke-linecap', 'round');

// arrows and period labels
const noteY = yScale(-0.49);
function arrow(tail, tip) {
  const dir = Math.sign(tip - tail);
  const base = tip - dir * 15;
  svg.append('line')
    .attr('x1', tail).attr('x2', base)
    .attr('y1', noteY).attr('y2', noteY)
    .attr('stroke', '#222').attr('stroke-width', 3);
  svg.append('path')
    .attr('d', `M${tip},${noteY} L${base - dir * 3},${noteY - 8} L${base + dir * 2},${noteY} L${base - dir * 3},${noteY + 8} Z`)
    .attr('fill', '#222');
}
arrow(splitX - 15, splitX - 41);
arrow(splitX + 14, splitX + 42);

svg.append('text')
  .attr('class', 'note')
  .attr('x', splitX - 44).attr('y', noteY).attr('dy', '0.36em')
  .attr('text-anchor', 'end')
  .text('Historical');
svg.append('text')
  .attr('class', 'note')
  .attr('x', splitX + 45).attr('y', noteY).attr('dy', '0.36em')
  .text('RCPs');

// legend
const swatches = [
  {color: '#333', w: 8, off: -3},
  {color: '#f2f2f2', w: 3, off: -7},
  {color: '#dcdcdc', w: 3, off: -7},
  {color: '#b3c9df', w: 3, off: -7},
  {color: '#f0c3be', w: 3, off: -7},
  {color: '#f4cacb', w: 3, off: -7}
];
const legend = svg.append('g').attr('class', 'legend');
const rows = legend.selectAll('g')
  .data(legendLabels)
  .join('g')
  .attr('transform', (d, i) => `translate(0, ${44.5 + i * 35.3})`);
rows.append('line')
  .attr('x1', 120).attr('x2', 197)
  .attr('y1', (d, i) => swatches[i].off).attr('y2', (d, i) => swatches[i].off)
  .attr('stroke', (d, i) => swatches[i].color)
  .attr('stroke-width', (d, i) => swatches[i].w);
rows.append('text')
  .attr('x', 209)
  .text(d => d);
</script>
</body>
</html>
